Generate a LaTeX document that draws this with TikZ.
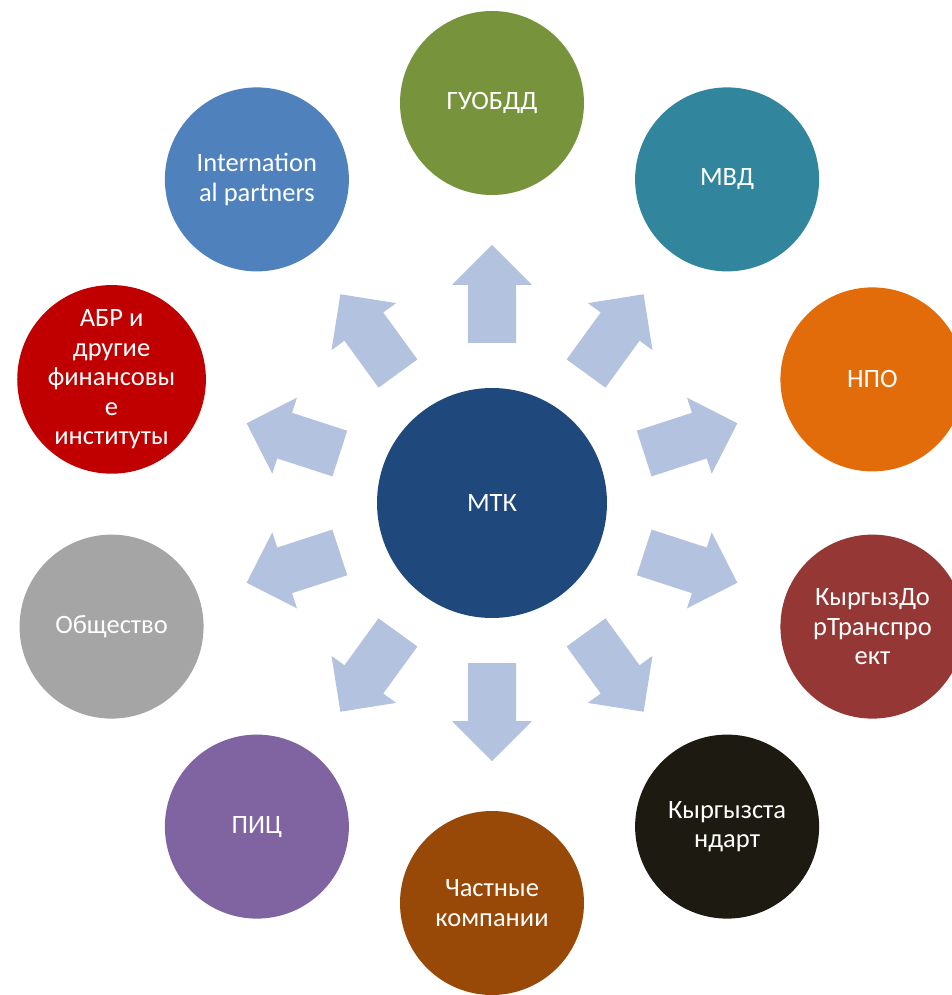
\documentclass[tikz,border=0pt]{standalone}
\usepackage{fontspec}
\setmainfont{Carlito}
\usetikzlibrary{positioning}

\definecolor{mtkblue}{HTML}{1F497D}
\definecolor{guobddgreen}{HTML}{77933C}
\definecolor{mvdteal}{HTML}{31859C}
\definecolor{npoorange}{HTML}{E36C0A}
\definecolor{kdtpred}{HTML}{953735}
\definecolor{ksblack}{HTML}{1D1B11}
\definecolor{chkbrown}{HTML}{984807}
\definecolor{picpurple}{HTML}{8064A2}
\definecolor{obgray}{HTML}{A5A5A5}
\definecolor{abrred}{HTML}{C00000}
\definecolor{intblue}{HTML}{4F81BD}
\definecolor{arrowblue}{HTML}{B3C3DF}

\begin{document}
\begin{tikzpicture}[x=1pt, y=1pt,
	c/.style={circle, minimum size=184pt, inner sep=0pt, text=white, align=center,
		font=\fontsize{26.5}{29.5}\selectfont},
	hub/.style={c, minimum size=230pt, fill=mtkblue},
	blockarrow/.style={fill=arrowblue}]
		\useasboundingbox (-492,-492) rectangle (460,503);

		% block arrows out of the hub
		\foreach \a in {90,54,18,-18,-54,-90,-126,-162,162,126}
			\fill[blockarrow, rotate=\a] (160,-24) -- (160,24) -- (218,24) -- (218,40)
				-- (258,0) -- (218,-40) -- (218,-24) -- cycle;

		\node[hub] (mtk) at (0,0) {МТК};
		\node[c, fill=guobddgreen] (guobdd) at (90:400) {ГУОБДД};
		\node[c, fill=mvdteal] (mvd) at (54:400) {МВД};
		\node[c, fill=npoorange] (npo) at (18:400) {НПО};
		\node[c, fill=kdtpred] (kdtp) at (-18:400) {КыргызДо\\рТранспро\\ект};
		\node[c, fill=ksblack] (kst) at (-54:400) {Кыргызста\\ндарт};
		\node[c, fill=chkbrown] (chk) at (-90:400) {Частные\\компании};
		\node[c, fill=picpurple] (pic) at (-126:400) {ПИЦ};
		\node[c, fill=obgray] (obsh) at (-162:400) {Общество};
		\node[c, fill=abrred] (abr) at (162:400) {АБР и\\другие\\финансовы\\е\\институты};
		\node[c, fill=intblue] (intp) at (126:400) {Internation\\al partners};
	\end{tikzpicture}
\end{document}
